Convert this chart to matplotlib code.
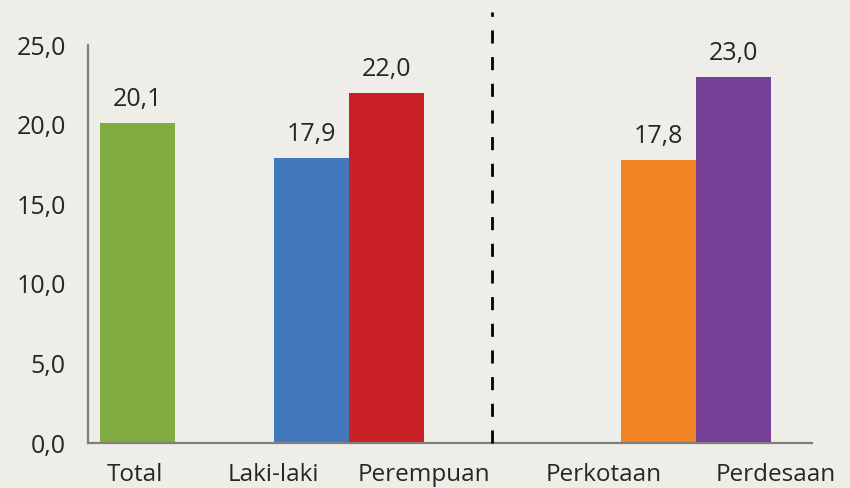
import matplotlib
matplotlib.use("Agg")
import matplotlib.pyplot as plt

plt.rcParams["font.family"] = ["Open Sans", "DejaVu Sans"]

# data
CATEGORIES = ["Total", "Laki-laki", "Perempuan", "Perkotaan", "Perdesaan"]
VALUES = [20.1, 17.9, 22.0, 17.8, 23.0]
COLORS = ["#82AC3F", "#4279BC", "#C92026", "#F08322", "#763E95"]
YTICKS = [0, 5, 10, 15, 20, 25]

# layout (bar-width units)
BAR_X = [0.66, 2.98, 3.98, 7.61, 8.61]
LABEL_X = [0.63, 2.47, 4.48, 6.88, 9.17]
DIVIDER_X = 5.39

BG = "#EEEDE8"
TXT = "#262626"

fig = plt.figure(figsize=(8.5, 4.88), dpi=100, facecolor=BG)
ax = fig.add_axes([88 / 850, 45 / 488, 724 / 850, 398 / 488])
ax.set_facecolor(BG)

ax.bar(BAR_X, VALUES, width=1.0, color=COLORS, edgecolor="none", zorder=2)
for x, v in zip(BAR_X, VALUES):
    ax.annotate(f"{v:.1f}".replace(".", ","), (x, v), xytext=(0, 8),
                textcoords="offset points", ha="center", va="bottom",
                fontsize=18, color=TXT)

# dashed divider between sex and area groups
ax.axvline(DIVIDER_X, ymin=0, ymax=1.083, color="black", lw=2.0,
           dashes=(4.7, 4.9), clip_on=False, zorder=3)

ax.set_xlim(0, 9.653)
ax.set_ylim(0, 25)
ax.set_yticks(YTICKS)
ax.set_yticklabels([f"{t:.1f}".replace(".", ",") for t in YTICKS],
                   fontsize=18, color=TXT)
ax.set_xticks(LABEL_X)
ax.set_xticklabels(CATEGORIES, fontsize=17.5, color=TXT)
ax.tick_params(axis="both", length=0)
ax.tick_params(axis="y", pad=16)
ax.tick_params(axis="x", pad=14.5)

for side in ["top", "right"]:
    ax.spines[side].set_visible(False)
for side in ["left", "bottom"]:
    ax.spines[side].set_color("#7F7F7F")
    ax.spines[side].set_linewidth(1.6)

fig.savefig("out.png", dpi=100, facecolor=BG)
